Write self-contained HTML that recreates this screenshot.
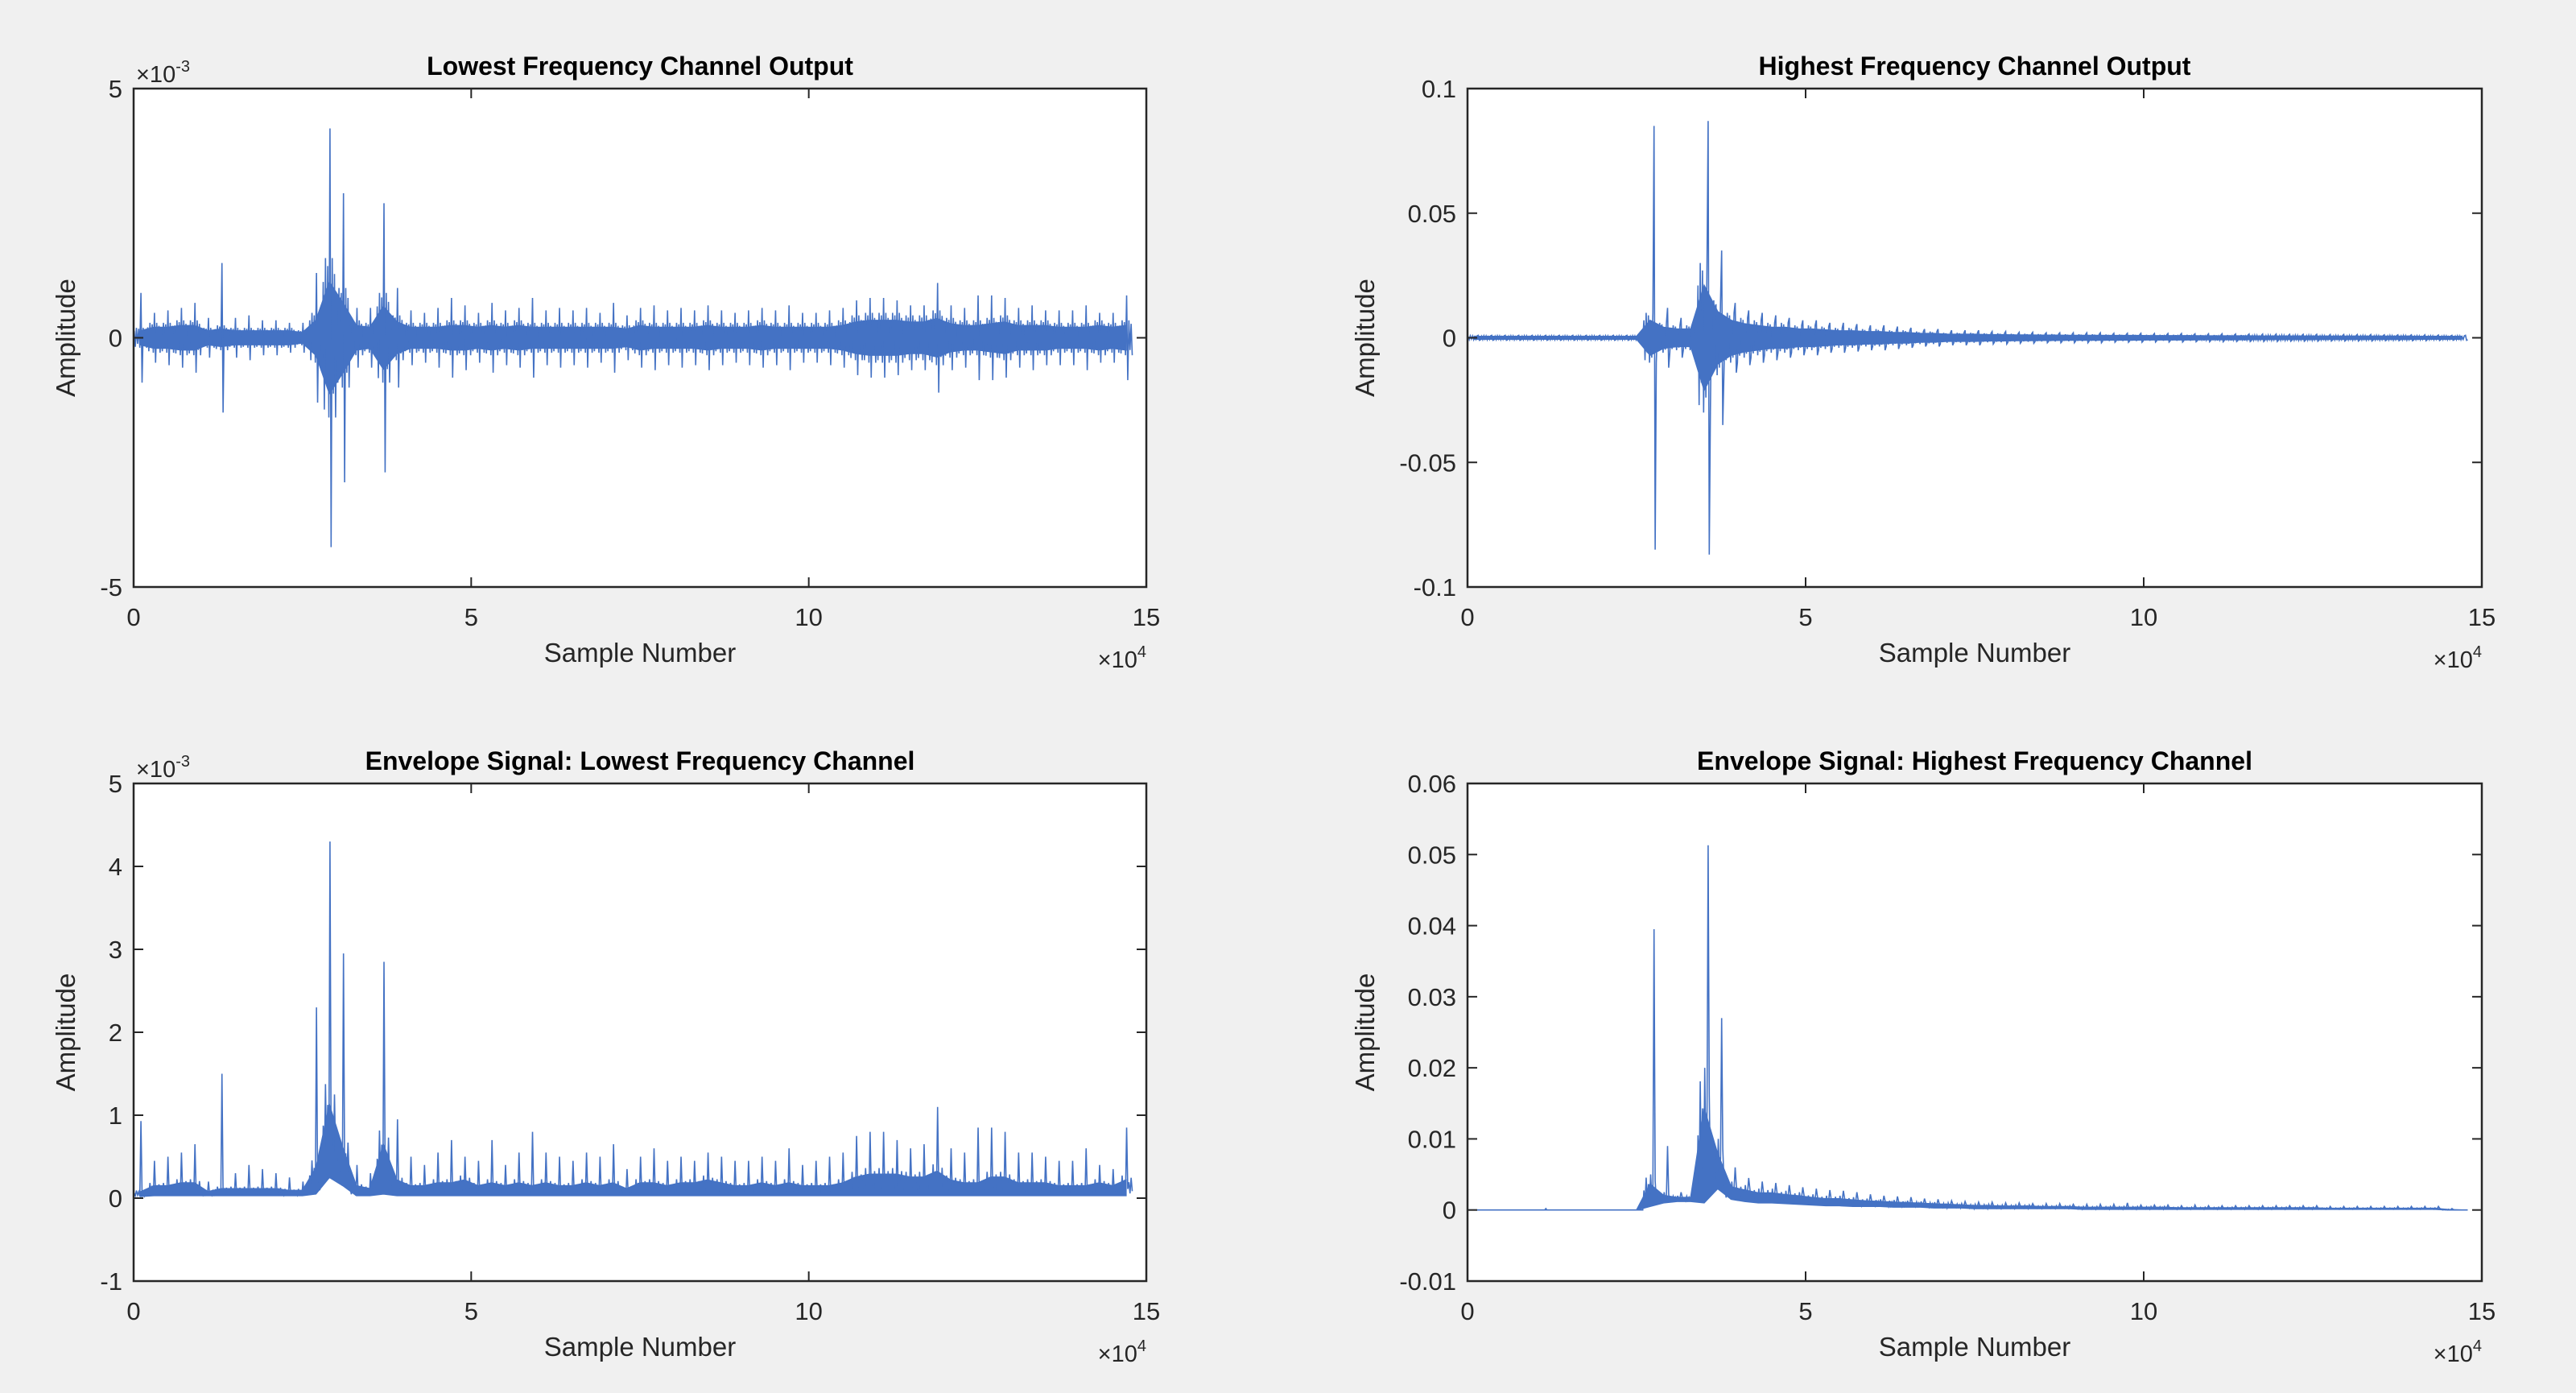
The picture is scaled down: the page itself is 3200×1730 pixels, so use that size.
<!DOCTYPE html>
<html><head><meta charset="utf-8"><style>
html,body{margin:0;padding:0;background:#f0f0f0;}
svg{display:block;font-family:"Liberation Sans",Arial,sans-serif;}
</style></head><body>
<svg id="fig" width="3200" height="1730" viewBox="0 0 3200 1730"></svg>
<script>
const xs=[0.1,0.3,0.5,0.7,0.9,1.1,1.3,1.5,1.7,1.9,2.1,2.3,2.5,2.7,2.9,3.1,3.3,3.5,3.7,3.9,4.1,4.3,4.5,4.7,4.9,5.1,5.3,5.5,5.7,5.9,6.1,6.3,6.5,6.7,6.9,7.1,7.3,7.5,7.7,7.9,8.1,8.3,8.5,8.7,8.9,9.1,9.3,9.5,9.7,9.9,10.1,10.3,10.5,10.7,10.9,11.1,11.3,11.5,11.7,11.9,12.1,12.3,12.5,12.7,12.9,13.1,13.3,13.5,13.7,13.9,14.1,14.3,14.5,14.7];
const xTicks=[0,5,10,15];
// Top-left: lowest freq output (x1e-3)
const lowBand=[.2,.3,.3,.35,.35,.2,.25,.2,.2,.2, .2,.2,.15,.5,1.6,1.0,.35,.3,.9,.45, .3,.3,.3,.35,.35,.3,.35,.3,.35,.3, .3,.3,.3,.3,.3,.3,.25,.35,.3,.3, .3,.3,.35,.3,.3,.3,.35,.3,.3,.3, .3,.3,.35,.45,.5,.5,.5,.45,.45,.55, .4,.35,.35,.4,.45,.35,.35,.35,.3,.3, .3,.35,.3,.35];
const lowPeak=[.9,.5,.55,.6,.7,.4,1.5,.4,.45,.35, .35,.3,.3,1.3,4.2,2.9,.6,.6,2.7,1.0, .55,.5,.6,.8,.65,.5,.7,.55,.6,.8, .55,.6,.55,.6,.5,.7,.45,.6,.65,.55, .6,.55,.65,.55,.5,.55,.6,.55,.65,.5, .5,.55,.6,.75,.8,.8,.75,.65,.65,1.1, .65,.6,.85,.85,.8,.6,.65,.55,.55,.55, .65,.5,.5,.85];
const lowTicks=[-5,0,5];
// Top-right: highest freq output
const highBand=[.0008,.0008,.0008,.0008,.0008,.0008,.0008,.0008,.0008,.0008, .0008,.0008,.0008,.01,.006,.005,.005,.03,.015,.01, .008,.007,.006,.006,.005,.005,.0045,.004,.004,.0035, .0035,.003,.003,.0025,.0025,.002,.002,.002,.0018,.0018, .0016,.0016,.0015,.0015,.0014,.0014,.0014,.0013,.0013,.0013, .0012,.0012,.0012,.0012,.0011,.0011,.0011,.0011,.001,.001, .001,.001,.001,.0009,.0009,.0009,.0009,.0009,.0009,.0009, .0008,.0008,.0008,.0008];
const highPeak=[.001,.001,.001,.001,.001,.001,.001,.001,.001,.001, .001,.001,.001,.085,.012,.008,.008,.087,.035,.014, .011,.01,.009,.008,.007,.007,.006,.006,.0055,.005, .005,.0045,.004,.0035,.0035,.003,.003,.003,.0025,.0025, .0022,.0022,.002,.002,.002,.002,.002,.0018,.0018,.0018, .0017,.0017,.0017,.0016,.0016,.0016,.0015,.0015,.0015,.0015, .0014,.0014,.0014,.0013,.0013,.0013,.0013,.0012,.0012,.0012, .0012,.0011,.001,.001];
const highTicks=[-0.1,-0.05,0,0.05,0.1];
// Bottom-left: envelope lowest (x1e-3)
const envLowBase=[.02,.03,.03,.03,.03,.03,.03,.03,.03,.03, .03,.03,.03,.05,.25,.15,.03,.03,.05,.03, .03,.03,.03,.03,.03,.03,.03,.03,.03,.03, .03,.03,.03,.03,.03,.03,.03,.03,.03,.03, .03,.03,.03,.03,.03,.03,.03,.03,.03,.03, .03,.03,.03,.03,.03,.03,.03,.03,.03,.03, .03,.03,.03,.03,.03,.03,.03,.03,.03,.03, .03,.03,.03,.03];
const envLowTop=[.1,.2,.2,.25,.25,.1,.15,.15,.15,.15, .15,.12,.12,.5,1.5,.8,.2,.15,.9,.3, .2,.2,.25,.25,.3,.2,.25,.2,.25,.2, .25,.2,.2,.25,.2,.25,.15,.25,.25,.2, .25,.25,.3,.25,.2,.2,.25,.2,.25,.2, .2,.2,.25,.35,.4,.4,.4,.35,.35,.45, .3,.25,.25,.35,.35,.25,.25,.25,.2,.2, .2,.25,.2,.3];
const envLowPeak=[.93,.45,.5,.55,.65,.2,1.5,.3,.4,.35, .3,.25,.2,2.3,4.3,2.95,.4,.3,2.85,.95, .5,.4,.55,.7,.5,.45,.7,.4,.55,.8, .55,.5,.45,.55,.5,.65,.35,.5,.6,.45, .5,.45,.55,.5,.45,.45,.5,.45,.6,.4, .45,.5,.55,.75,.8,.8,.7,.6,.65,1.1, .6,.55,.85,.85,.8,.55,.55,.5,.45,.45, .6,.4,.35,.85];
const envLowTicks=[-1,0,1,2,3,4,5];
// Bottom-right: envelope highest
const envHighBase=[0,0,0,0,0,0,0,0,0,0, 0,0,0,.0005,.001,.0012,.0012,.001,.003,.0015, .0012,.001,.001,.0009,.0008,.0007,.0006,.0006,.0005,.0005, .0005,.0004,.0004,.0004,.0003,.0003,.0003,.0002,.0002,.0002, .0002,.0002,.0002,.0002,.0002,.0001,.0001,.0001,.0001,.0001, .0001,.0001,.0001,.0001,.0001,.0001,.0001,.0001,.0001,.0001, .0001,.0001,.0001,.0001,.0001,.0001,.0001,.0001,.0001,.0001, .0001,.0001,0,0];
const envHighTop=[0,0,0,0,0,0,0,0,0,0, 0,0,0,.005,.0025,.002,.002,.02,.01,.004, .0035,.003,.003,.0027,.0025,.0022,.002,.002,.0018,.0016, .0015,.0014,.0013,.0012,.0011,.001,.0009,.0008,.0008,.0007, .0007,.0007,.0006,.0006,.0006,.0005,.0005,.0005,.0005,.0005, .0005,.0005,.0004,.0004,.0004,.0004,.0004,.0004,.0004,.0004, .0004,.0004,.0004,.0003,.0003,.0003,.0003,.0003,.0003,.0003, .0003,.0003,.0001,0];
const envHighPeak=[0,0,0,0,0,.0002,0,0,0,0, 0,0,0,.0395,.009,.0025,.0025,.0513,.027,.006, .0045,.004,.0038,.0035,.0032,.003,.0028,.0027,.0025,.0022, .002,.0019,.0018,.0016,.0015,.0013,.0012,.0011,.0011,.001, .001,.0009,.0009,.0009,.0008,.0008,.0008,.0008,.001,.0007, .0007,.0007,.0006,.0007,.0006,.0006,.0006,.0006,.0006,.0006, .0006,.0006,.0006,.0005,.0005,.0005,.0005,.0005,.0005,.0005, .0005,.0005,.0002,0];
const envHighTicks=[-0.01,0,0.01,0.02,0.03,0.04,0.05,0.06];

const NS='http://www.w3.org/2000/svg';
const svg=document.getElementById('fig');
const COLOR='#4472c4', AX='#262626';
// drawing texture pattern (sub-sample shape within a bin, not data)
const OSC_PAT=[0.7,-0.9,1.0,-0.6,0.9,-1.0,0.5,-0.8,1.0,-0.7,0.8,-1.0];
const ENV_PAT=[0.5,0.1,0.9,0.2,0.7,0.0,1.0,0.3,0.6,0.1,0.8,0.2];
function mk(tag,attrs,parent){const e=document.createElementNS(NS,tag);for(const k in attrs)e.setAttribute(k,attrs[k]);(parent||svg).appendChild(e);return e;}
function fmt(v){return String(v);}

function panel(p){
  const g=mk('g',{});
  
  
  const L=p.L,R=p.R,T=p.T,B=p.B;
  const sx=v=>L+(v-0)/(15-0)*(R-L);
  const sy=v=>B-(v-p.ymin)/(p.ymax-p.ymin)*(B-T);
  const bg=mk('rect',{x:L,y:T,width:R-L,height:B-T,fill:'#fff'},g);
  
  
  const sg=mk('g',{},g);
  
  
  const n=OSC_PAT.length, w=0.2, pk=p.pkPos;
  let pts=[];
  if(p.type==='osc'){
    let up=[],dn=[];
    xs.forEach((x,i)=>{up.push(sx(x)+','+sy(p.band[i]*0.7));dn.unshift(sx(x)+','+sy(-p.band[i]*0.7));});
    const a=mk('polygon',{points:up.concat(dn).join(' '),fill:COLOR,stroke:COLOR,'stroke-width':1.5},sg);
    
    
    xs.forEach((x,i)=>{
      for(let k=0;k<n;k++){
        const xx=x-w/2+(k+0.5)*w/n;
        let v=OSC_PAT[k]*p.band[i];
        if(k===pk) v=p.peak[i];
        if(k===pk+1) v=-p.peak[i];
        pts.push(sx(xx)+','+sy(v));
      }
    });
  } else {
    let up=[],dn=[];
    xs.forEach((x,i)=>{up.push(sx(x)+','+sy(p.base[i]+(p.top[i]-p.base[i])*0.7));dn.unshift(sx(x)+','+sy(p.base[i]));});
    const a=mk('polygon',{points:up.concat(dn).join(' '),fill:COLOR,stroke:COLOR,'stroke-width':1.5},sg);
    
    
    pts.push(sx(0)+','+sy(0));
    xs.forEach((x,i)=>{
      for(let k=0;k<n;k++){
        const xx=x-w/2+(k+0.5)*w/n;
        let v=p.base[i]+ENV_PAT[k]*(p.top[i]-p.base[i]);
        if(k===pk) v=p.peak[i];
        pts.push(sx(xx)+','+sy(v));
      }
    });
  }
  const l=mk('polyline',{points:pts.join(' '),fill:'none',stroke:COLOR,'stroke-width':1.6},sg);
  
  
  const box=mk('rect',{x:L,y:T,width:R-L,height:B-T,fill:'none',stroke:AX,'stroke-width':2.5},g);
  
  
  xTicks.forEach(v=>{
    const X=sx(v);
    mk('line',{x1:X,y1:B,x2:X,y2:B-12,stroke:AX,'stroke-width':2},g);
    mk('line',{x1:X,y1:T,x2:X,y2:T+12,stroke:AX,'stroke-width':2},g);
    const t=mk('text',{x:X,y:B+48,'font-size':31,fill:AX,'text-anchor':'middle'},g);
    t.textContent=fmt(v);
    
    
  });
  p.ticks.forEach(v=>{
    const Y=sy(v);
    mk('line',{x1:L,y1:Y,x2:L+12,y2:Y,stroke:AX,'stroke-width':2},g);
    mk('line',{x1:R,y1:Y,x2:R-12,y2:Y,stroke:AX,'stroke-width':2},g);
    const t=mk('text',{x:L-14,y:Y+11,'font-size':31,fill:AX,'text-anchor':'end'},g);
    t.textContent=fmt(v);
    
    
  });
  const ti=mk('text',{x:(L+R)/2,y:T-17,'font-size':32,'font-weight':'bold',fill:'#000','text-anchor':'middle'},g);
  ti.textContent=p.title;
  
  
  const xl=mk('text',{x:(L+R)/2,y:B+93,'font-size':33,fill:AX,'text-anchor':'middle'},g);
  xl.textContent='Sample Number';
  
  
  const yl=mk('text',{x:0,y:0,'font-size':33,fill:AX,'text-anchor':'middle',transform:'translate('+(L-p.ylOff)+','+((T+B)/2)+') rotate(-90)'},g);
  yl.textContent='Amplitude';
  
  
  const xe=mk('text',{x:R,y:B+100,'font-size':29,fill:AX,'text-anchor':'end'},g);
  xe.innerHTML='×10<tspan dy="-13" font-size="20">4</tspan>';
  
  
  if(p.yexp){
    const ye=mk('text',{x:L+3,y:T-8,'font-size':29,fill:AX,'text-anchor':'start'},g);
    ye.innerHTML='×10<tspan dy="-13" font-size="20">-3</tspan>';
    
    
  }
}
panel({name:'lowest-frequency-output-chart',title:'Lowest Frequency Channel Output',L:166,R:1424,T:110,B:729,ymin:-5,ymax:5,ticks:lowTicks,type:'osc',band:lowBand,peak:lowPeak,yexp:true,ylOff:73,pkPos:6});
panel({name:'highest-frequency-output-chart',title:'Highest Frequency Channel Output',L:1823,R:3083,T:110,B:729,ymin:-0.1,ymax:0.1,ticks:highTicks,type:'osc',band:highBand,peak:highPeak,yexp:false,ylOff:116,pkPos:9});
panel({name:'envelope-lowest-chart',title:'Envelope Signal: Lowest Frequency Channel',L:166,R:1424,T:973,B:1591,ymin:-1,ymax:5,ticks:envLowTicks,type:'env',base:envLowBase,top:envLowTop,peak:envLowPeak,yexp:true,ylOff:73,pkPos:6});
panel({name:'envelope-highest-chart',title:'Envelope Signal: Highest Frequency Channel',L:1823,R:3083,T:973,B:1591,ymin:-0.01,ymax:0.06,ticks:envHighTicks,type:'env',base:envHighBase,top:envHighTop,peak:envHighPeak,yexp:false,ylOff:116,pkPos:9});
</script>
</body></html>
